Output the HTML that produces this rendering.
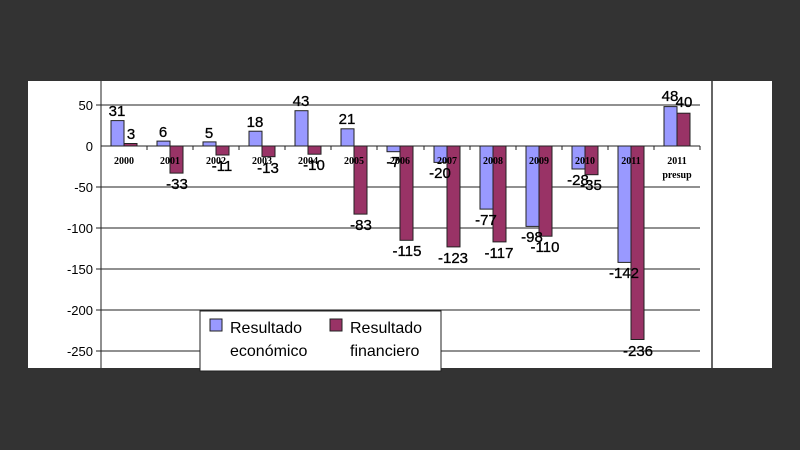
<!DOCTYPE html>
<html><head><meta charset="utf-8"><style>
html,body{margin:0;padding:0;background:#333;}
svg{display:block}
.v{font:15px "Liberation Sans",Arial,sans-serif;fill:#000;text-anchor:middle;stroke:#000;stroke-width:0.3}
.y{font:bold 10px "Liberation Serif",serif;fill:#000;text-anchor:middle}
.a{font:13px "Liberation Sans",Arial,sans-serif;fill:#000;text-anchor:end}
.e{fill:#9999ff;stroke:#222;stroke-width:1}
.f{fill:#993366;stroke:#222;stroke-width:1}
</style></head><body>
<svg width="800" height="450" xmlns="http://www.w3.org/2000/svg">
<rect x="0" y="0" width="800" height="450" fill="#333"/>
<rect x="28" y="81" width="744" height="287" fill="#fff"/>
<line x1="712" y1="81" x2="712" y2="368" stroke="#333" stroke-width="1.5"/>
<g stroke="#222" stroke-width="1">
<line x1="96" y1="105" x2="700" y2="105"/>
<line x1="96" y1="187" x2="700" y2="187"/>
<line x1="96" y1="228" x2="700" y2="228"/>
<line x1="96" y1="269" x2="700" y2="269"/>
<line x1="96" y1="310" x2="700" y2="310"/>
<line x1="96" y1="351" x2="700" y2="351"/>
<line x1="101" y1="81" x2="101" y2="368"/>
</g>
<g class="a">
<text x="93" y="110">50</text><text x="93" y="151">0</text><text x="93" y="192">-50</text>
<text x="93" y="233">-100</text><text x="93" y="274">-150</text><text x="93" y="315">-200</text><text x="93" y="356">-250</text>
</g>
<g>
<rect class="e" x="111" y="120.6" width="13" height="25.4"/><rect class="f" x="124" y="143.5" width="13" height="2.5"/>
<rect class="e" x="157" y="141.1" width="13" height="4.9"/><rect class="f" x="170" y="146" width="13" height="27.1"/>
<rect class="e" x="203" y="141.9" width="13" height="4.1"/><rect class="f" x="216" y="146" width="13" height="9"/>
<rect class="e" x="249" y="131.2" width="13" height="14.8"/><rect class="f" x="262" y="146" width="13" height="10.7"/>
<rect class="e" x="295" y="110.7" width="13" height="35.3"/><rect class="f" x="308" y="146" width="13" height="8.2"/>
<rect class="e" x="341" y="128.8" width="13" height="17.2"/><rect class="f" x="354" y="146" width="13" height="68.1"/>
<rect class="e" x="387" y="146" width="13" height="5.7"/><rect class="f" x="400" y="146" width="13" height="94.3"/>
<rect class="e" x="434" y="146" width="13" height="16.4"/><rect class="f" x="447" y="146" width="13" height="100.9"/>
<rect class="e" x="480" y="146" width="13" height="63.1"/><rect class="f" x="493" y="146" width="13" height="95.9"/>
<rect class="e" x="526" y="146" width="13" height="80.4"/><rect class="f" x="539" y="146" width="13" height="90.2"/>
<rect class="e" x="572" y="146" width="13" height="23"/><rect class="f" x="585" y="146" width="13" height="28.7"/>
<rect class="e" x="618" y="146" width="13" height="116.4"/><rect class="f" x="631" y="146" width="13" height="193.5"/>
<rect class="e" x="664" y="106.6" width="13" height="39.4"/><rect class="f" x="677" y="113.2" width="13" height="32.8"/>
</g>
<line x1="101" y1="146" x2="700" y2="146" stroke="#222" stroke-width="1"/>
<g stroke="#222">
<line x1="147" y1="146" x2="147" y2="150"/><line x1="193" y1="146" x2="193" y2="150"/><line x1="239" y1="146" x2="239" y2="150"/>
<line x1="285" y1="146" x2="285" y2="150"/><line x1="331" y1="146" x2="331" y2="150"/><line x1="377" y1="146" x2="377" y2="150"/>
<line x1="424" y1="146" x2="424" y2="150"/><line x1="470" y1="146" x2="470" y2="150"/><line x1="516" y1="146" x2="516" y2="150"/>
<line x1="562" y1="146" x2="562" y2="150"/><line x1="608" y1="146" x2="608" y2="150"/><line x1="654" y1="146" x2="654" y2="150"/>
<line x1="700" y1="146" x2="700" y2="150"/>
</g>
<g class="y">
<text x="124" y="164">2000</text><text x="170" y="164">2001</text><text x="216" y="164">2002</text><text x="262" y="164">2003</text>
<text x="308" y="164">2004</text><text x="354" y="164">2005</text><text x="400" y="164">2006</text><text x="447" y="164">2007</text>
<text x="493" y="164">2008</text><text x="539" y="164">2009</text><text x="585" y="164">2010</text><text x="631" y="164">2011</text>
<text x="677" y="164">2011</text><text x="677" y="178">presup</text>
</g>
<g class="v">
<text x="117" y="116">31</text><text x="131" y="139">3</text>
<text x="163" y="137">6</text><text x="177" y="189">-33</text>
<text x="209" y="138">5</text><text x="222" y="171">-11</text>
<text x="255" y="127">18</text><text x="268" y="173">-13</text>
<text x="301" y="106">43</text><text x="314" y="170">-10</text>
<text x="347" y="124">21</text><text x="361" y="230">-83</text>
<text x="393" y="167">-7</text><text x="407" y="256">-115</text>
<text x="440" y="178">-20</text><text x="453" y="263">-123</text>
<text x="486" y="225">-77</text><text x="499" y="258">-117</text>
<text x="532" y="242">-98</text><text x="545" y="252">-110</text>
<text x="578" y="185">-28</text><text x="591" y="190">-35</text>
<text x="624" y="278">-142</text><text x="638" y="356">-236</text>
<text x="670" y="101">48</text><text x="684" y="107">40</text>
</g>
<rect x="200" y="311" width="241" height="60" fill="#fff" stroke="#222" stroke-width="1"/>
<rect x="210" y="319" width="12" height="12" fill="#9999ff" stroke="#222"/>
<rect x="330" y="319" width="12" height="12" fill="#993366" stroke="#222"/>
<g font-family="Liberation Sans, Arial, sans-serif" font-size="16" fill="#000">
<text x="230" y="333">Resultado</text><text x="230" y="356">económico</text>
<text x="350" y="333">Resultado</text><text x="350" y="356">financiero</text>
</g>
</svg>
</body></html>
